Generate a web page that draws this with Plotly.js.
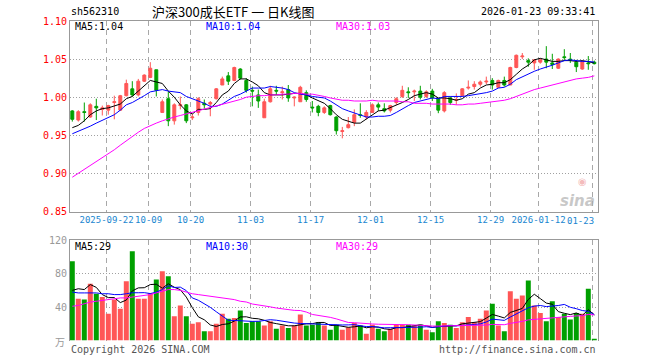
<!DOCTYPE html>
<html><head><meta charset="utf-8">
<script src="https://cdn.plot.ly/plotly-3.0.1.min.js"></script>
<style>html,body{margin:0;padding:0;background:#fff}#chart{width:660px;height:360px}</style>
</head><body><div id="chart"></div>
<script>
const dates = ['2025-09-12','2025-09-15','2025-09-16','2025-09-17','2025-09-18','2025-09-19','2025-09-22','2025-09-23','2025-09-24','2025-09-25','2025-09-26','2025-09-29','2025-09-30',
'2025-10-09','2025-10-10','2025-10-13','2025-10-14','2025-10-15','2025-10-16','2025-10-17','2025-10-20','2025-10-21','2025-10-22','2025-10-23','2025-10-24','2025-10-27','2025-10-28','2025-10-29','2025-10-30','2025-10-31',
'2025-11-03','2025-11-04','2025-11-05','2025-11-06','2025-11-07','2025-11-10','2025-11-11','2025-11-12','2025-11-13','2025-11-14','2025-11-17','2025-11-18','2025-11-19','2025-11-20','2025-11-21','2025-11-24','2025-11-25','2025-11-26','2025-11-27','2025-11-28',
'2025-12-01','2025-12-02','2025-12-03','2025-12-04','2025-12-05','2025-12-08','2025-12-09','2025-12-10','2025-12-11','2025-12-12','2025-12-15','2025-12-16','2025-12-17','2025-12-18','2025-12-19','2025-12-22','2025-12-23','2025-12-24','2025-12-25','2025-12-26','2025-12-29','2025-12-30','2025-12-31',
'2026-01-05','2026-01-06','2026-01-07','2026-01-08','2026-01-09','2026-01-12','2026-01-13','2026-01-14','2026-01-15','2026-01-16','2026-01-19','2026-01-20','2026-01-21','2026-01-22','2026-01-23'];

const open = [0.982,0.970,0.981,0.974,0.988,0.984,0.983,0.993,0.983,1.002,
1.011,1.003,1.021,1.026,1.036,0.980,0.998,0.969,0.989,0.990,
0.973,0.980,0.992,0.991,0.998,1.016,1.028,1.022,1.037,1.022,
1.009,1.003,0.973,0.994,1.009,1.006,1.010,0.999,0.994,1.006,
0.987,0.988,0.980,0.989,0.974,0.955,0.960,0.967,0.977,0.974,
0.980,0.990,0.985,0.983,0.993,1.001,1.007,1.007,1.008,1.001,
1.008,0.998,0.982,0.999,0.996,1.002,1.012,1.014,1.017,1.020,
1.022,1.013,1.022,1.016,1.039,1.053,1.048,1.045,1.046,1.050,
1.045,1.038,1.053,1.050,1.046,1.037,1.045,1.046];
const high = [0.983,0.983,0.993,0.992,0.998,0.989,0.990,1.002,1.003,1.023,
1.021,1.024,1.030,1.046,1.036,0.997,1.007,0.992,1.001,0.991,
0.978,1.000,0.997,0.995,1.012,1.027,1.033,1.040,1.038,1.025,
1.014,1.010,0.998,1.015,1.015,1.014,1.016,1.001,1.015,1.009,
0.995,0.990,0.988,0.990,0.975,0.961,0.974,0.984,0.992,0.983,
0.992,0.993,0.992,0.990,1.000,1.015,1.013,1.010,1.015,1.009,
1.011,0.999,1.008,1.001,1.005,1.012,1.022,1.021,1.022,1.027,
1.025,1.023,1.027,1.040,1.056,1.058,1.051,1.050,1.051,1.067,
1.057,1.051,1.063,1.058,1.049,1.048,1.054,1.048];
const low = [0.968,0.968,0.968,0.973,0.970,0.976,0.977,0.971,0.982,1.001,
1.001,1.001,1.020,1.025,1.001,0.980,0.962,0.964,0.984,0.966,
0.970,0.976,0.985,0.975,0.997,1.016,1.016,1.021,1.023,1.006,
0.988,0.986,0.973,0.993,1.003,0.997,0.994,0.988,0.994,0.994,
0.980,0.975,0.978,0.976,0.951,0.946,0.959,0.962,0.973,0.971,
0.980,0.982,0.980,0.980,0.990,0.999,0.999,0.995,0.997,0.999,
0.995,0.979,0.980,0.990,0.990,1.001,1.010,1.010,1.014,1.017,
1.010,1.012,1.014,1.016,1.038,1.050,1.040,1.036,1.044,1.038,
1.037,1.037,1.048,1.045,1.033,1.036,1.036,1.043];
const close = [0.971,0.981,0.980,0.990,0.986,0.986,0.989,0.994,1.002,1.018,
1.003,1.021,1.029,1.038,1.009,0.994,0.969,0.990,0.990,0.969,
0.974,0.998,0.990,0.993,1.011,1.024,1.021,1.039,1.025,1.009,
1.008,0.995,0.994,1.011,1.008,1.007,0.999,1.000,1.013,0.997,
0.986,0.980,0.986,0.977,0.956,0.956,0.964,0.977,0.976,0.980,
0.990,0.987,0.982,0.989,0.998,1.009,1.006,1.008,1.000,1.007,
0.999,0.983,1.006,0.993,0.997,1.011,1.013,1.017,1.020,1.021,
1.016,1.022,1.016,1.039,1.055,1.054,1.046,1.049,1.049,1.046,
1.043,1.050,1.052,1.049,1.040,1.047,1.044,1.044];

const ma5 = [0.960,0.963,0.969,0.977,0.982,0.985,0.986,0.989,0.991,0.998,
1.001,1.008,1.015,1.022,1.020,1.018,1.008,1.000,0.990,0.982,
0.978,0.984,0.984,0.985,0.993,1.003,1.008,1.018,1.024,1.024,
1.020,1.015,1.006,1.003,1.003,1.003,1.004,1.005,1.005,1.003,
0.999,0.995,0.992,0.985,0.977,0.971,0.968,0.966,0.966,0.971,
0.977,0.982,0.983,0.986,0.989,0.993,0.997,1.002,1.004,1.006,
1.004,0.999,0.999,0.998,0.996,0.998,1.004,1.006,1.012,1.016,
1.017,1.019,1.019,1.023,1.030,1.037,1.042,1.049,1.051,1.049,
1.047,1.047,1.048,1.048,1.047,1.048,1.046,1.045];
const ma10 = [0.952,0.955,0.959,0.962,0.966,0.970,0.974,0.977,0.983,0.990,
0.993,0.997,1.002,1.007,1.009,1.010,1.008,1.007,1.006,1.001,
0.998,0.996,0.992,0.988,0.988,0.991,0.996,1.001,1.004,1.008,
1.012,1.012,1.012,1.014,1.013,1.012,1.010,1.006,1.004,1.003,
1.001,1.000,0.999,0.995,0.990,0.985,0.982,0.979,0.976,0.974,
0.974,0.975,0.975,0.976,0.980,0.985,0.989,0.993,0.995,0.998,
0.999,0.998,1.001,1.001,1.001,1.001,1.002,1.003,1.005,1.006,
1.008,1.012,1.013,1.017,1.023,1.027,1.031,1.034,1.037,1.039,
1.042,1.045,1.048,1.049,1.048,1.047,1.047,1.046];
const ma30 = [0.895,0.900,0.905,0.910,0.915,0.920,0.925,0.931,0.937,0.943,
0.949,0.954,0.959,0.963,0.966,0.969,0.972,0.974,0.976,0.978,
0.980,0.982,0.984,0.986,0.988,0.990,0.993,0.995,0.997,1.000,
1.001,1.002,1.002,1.003,1.003,1.004,1.004,1.005,1.005,1.004,
1.004,1.002,1.001,0.999,0.997,0.996,0.996,0.995,0.995,0.995,
0.996,0.995,0.995,0.995,0.995,0.994,0.994,0.992,0.992,0.992,
0.991,0.991,0.991,0.991,0.990,0.990,0.991,0.991,0.992,0.993,
0.994,0.995,0.996,0.998,1.001,1.005,1.007,1.010,1.012,1.014,
1.016,1.018,1.021,1.023,1.024,1.025,1.026,1.028];

const volume = [95,50,49,68,56,52,32,49,38,71,
107,50,50,57,73,83,77,29,42,29,
20,22,11,11,20,32,26,27,36,21,
23,23,18,23,14,18,15,18,31,18,
19,22,18,13,19,13,16,21,18,8,
19,14,11,14,19,19,19,18,19,13,
10,23,21,19,15,22,28,22,26,36,
44,18,11,59,50,54,72,42,33,23,
47,28,32,25,33,32,62,2];
const volMa5 = [60,62,61,67,63.6,55.0,51.4,51.4,45.4,48.4,
59.4,63.0,63.2,67.0,67.4,62.6,68.0,63.8,60.8,52.0,
39.4,28.4,24.8,18.6,16.8,19.2,20.0,23.2,28.2,28.4,
26.6,26.0,24.2,21.6,20.2,19.2,17.6,17.6,19.2,20.0,
20.2,21.6,21.6,18.0,18.2,17.0,15.8,16.4,17.4,15.2,
16.4,16.0,14.0,13.2,15.4,15.4,16.4,17.8,18.8,17.6,
15.8,16.6,17.2,17.2,17.6,20.0,21.0,21.2,22.6,26.8,
31.2,29.2,27.0,33.6,36.4,38.4,49.2,55.4,50.2,44.8,
43.4,34.6,32.6,31.0,33.0,30.0,36.8,30.8];
const volMa10 = [58,57,57,57,57,56,56,55,55,56.0,
57.2,57.2,57.3,56.2,57.9,61.0,65.5,63.5,63.9,59.7,
51.0,48.2,44.3,39.7,34.4,29.3,24.2,24.0,23.4,22.6,
22.9,23.0,23.7,24.9,24.3,22.9,21.8,20.9,20.4,20.1,
19.7,19.6,19.6,18.6,19.1,18.6,18.7,19.0,17.7,16.7,
16.7,15.9,15.2,15.3,15.3,15.9,16.2,15.9,16.0,16.5,
15.6,16.5,17.5,18.0,17.6,17.9,18.8,19.2,19.9,22.2,
25.6,25.1,24.1,28.1,31.6,34.8,39.2,41.2,41.9,40.6,
40.9,41.9,43.2,39.8,38.1,35.9,34.9,30.9];
const volMa30 = [41,42,44,46,47,48,49,50,51,51,
52,53,54,55,57,59,61,61,60,58,
56,55,54,53,52,51,50,49,47,46.1,
43.7,42.8,41.8,40.3,38.9,37.7,37.2,36.1,35.9,34.1,
31.2,30.3,29.2,27.7,25.9,23.6,21.6,21.3,20.5,19.8,
19.8,19.5,19.5,19.6,19.6,19.1,18.9,18.6,18.0,17.8,
17.3,17.3,17.4,17.3,17.3,17.5,17.9,18.0,17.9,18.5,
19.3,19.2,18.9,20.5,21.5,22.9,24.7,25.4,25.9,26.4,
27.4,27.8,28.5,28.9,29.4,29.8,31.2,30.7];

const tickDates = ['2025-09-22','2025-10-09','2025-10-20','2025-11-03','2025-11-17','2025-12-01','2025-12-15','2025-12-29','2026-01-12','2026-01-23'];
const tickLabels = ['2025-09-22','10-09','10-20','11-03','11-17','12-01','12-15','12-29','2026-01-12','01-23'];
const priceTicks = [0.85,0.90,0.95,1.00,1.05,1.10];
const priceTickText = ['0.85','0.90','0.95','1.00','1.05','1.10'];
const volTicks = [40,80,120];
const volTickText = ['40','80','120'];

const W = 660, H = 360;
const L = 70, R = 598;
const mainTop = 21, mainBot = 211.5, volTop = 240.3, volBot = 340.5;
const px = x => x / W, py = y => 1 - y / H;
const mono = "'DejaVu Sans Mono', monospace";
const RED = '#ff5656', GREEN = '#00a000';
const BLUE_TXT = '#1a86d0';

const idx = dates.map((d, i) => i);
const tickVals = tickDates.map(d => dates.indexOf(d) - 0.28);
const tickText = tickLabels.map((t, i) => i === tickLabels.length - 1 ? '' : t);
const xRange = [-0.383, dates.length - 0.383];

const traces = [
  {type: 'candlestick', x: idx, open: open, high: high, low: low, close: close,
   xaxis: 'x', yaxis: 'y', whiskerwidth: 0, hoverinfo: 'skip',
   increasing: {line: {color: RED, width: 1}, fillcolor: RED},
   decreasing: {line: {color: GREEN, width: 1}, fillcolor: GREEN}},
  {type: 'scatter', mode: 'lines', x: idx, y: ma5, xaxis: 'x', yaxis: 'y', line: {color: '#000000', width: 1}, hoverinfo: 'skip'},
  {type: 'scatter', mode: 'lines', x: idx, y: ma10, xaxis: 'x', yaxis: 'y', line: {color: '#0000ff', width: 1}, hoverinfo: 'skip'},
  {type: 'scatter', mode: 'lines', x: idx, y: ma30, xaxis: 'x', yaxis: 'y', line: {color: '#ff00ff', width: 1}, hoverinfo: 'skip'},
  {type: 'bar', x: idx, y: volume, xaxis: 'x2', yaxis: 'y2', hoverinfo: 'skip',
   marker: {color: close.map((c, i) => c >= open[i] ? RED : GREEN), line: {width: 0}}},
  {type: 'scatter', mode: 'lines', x: idx, y: volMa5, xaxis: 'x2', yaxis: 'y2', line: {color: '#000000', width: 1}, hoverinfo: 'skip'},
  {type: 'scatter', mode: 'lines', x: idx, y: volMa10, xaxis: 'x2', yaxis: 'y2', line: {color: '#0000ff', width: 1}, hoverinfo: 'skip'},
  {type: 'scatter', mode: 'lines', x: idx, y: volMa30, xaxis: 'x2', yaxis: 'y2', line: {color: '#ff00ff', width: 1}, hoverinfo: 'skip'}
];

const gridV = {showgrid: true, gridcolor: '#a8a8a8', gridwidth: 1, griddash: '5px,4px'};
const gridH = {showgrid: true, gridcolor: '#a0a0a0', gridwidth: 1, griddash: '1px,2px'};

function ann(text, x, y, anchor, color, size, family, extra) {
  return Object.assign({text: text, x: px(x), y: py(y), xref: 'paper', yref: 'paper',
    xanchor: anchor, yanchor: 'middle', showarrow: false,
    font: {family: family || mono, size: size || 10, color: color || '#000'}}, extra || {});
}

const layout = {
  width: W, height: H, margin: {l: 0, r: 0, t: 0, b: 0},
  paper_bgcolor: '#ffffff', plot_bgcolor: '#ffffff',
  showlegend: false, hovermode: false, dragmode: false,
  boxgap: 0.3, bargap: 0.17,
  xaxis: Object.assign({domain: [px(L), px(R)], range: xRange, anchor: 'y',
    tickmode: 'array', tickvals: tickVals, ticktext: tickText, ticks: '', tickangle: 0,
    tickfont: {family: mono, size: 9, color: BLUE_TXT},
    showline: true, linecolor: '#999999', linewidth: 1, mirror: true,
    zeroline: false, rangeslider: {visible: false}, fixedrange: true}, gridV),
  yaxis: Object.assign({domain: [py(mainBot), py(mainTop)], range: [0.85, 1.10], anchor: 'x',
    tickmode: 'array', tickvals: priceTicks, ticktext: priceTickText, ticks: '',
    tickfont: {family: mono, size: 10, color: '#ff0000'},
    showline: true, linecolor: '#999999', linewidth: 1, mirror: true,
    zeroline: false, fixedrange: true}, gridH),
  xaxis2: Object.assign({domain: [px(L), px(R)], range: xRange, anchor: 'y2',
    tickmode: 'array', tickvals: tickVals, showticklabels: false, ticks: '',
    showline: true, side: 'top', linecolor: '#999999', linewidth: 1,
    zeroline: false, fixedrange: true}, gridV),
  yaxis2: Object.assign({domain: [py(volBot), py(volTop)], range: [0, 120], anchor: 'x2',
    tickmode: 'array', tickvals: volTicks, ticktext: volTickText, ticks: '',
    tickfont: {family: mono, size: 10, color: '#999999'},
    showline: true, linecolor: '#999999', linewidth: 1, mirror: true,
    zeroline: false, fixedrange: true}, gridH),
  annotations: [
    ann('sh562310', 69, 12, 'left', '#000'),
    ann('沪深300成长ETF 一 日K线图', 233, 12, 'center', '#000', 13, "'Noto Sans CJK SC', sans-serif"),
    ann('2026-01-23 09:33:41', 597, 12, 'right', '#000'),
    ann('MA5:1.04', 73, 27, 'left', '#000000'),
    ann('MA10:1.04', 204, 27, 'left', '#0000ff'),
    ann('MA30:1.03', 334, 27, 'left', '#ff00ff'),
    ann('MA5:29', 73, 246, 'left', '#000000'),
    ann('MA10:30', 204, 246, 'left', '#0000ff'),
    ann('MA30:29', 334, 246, 'left', '#ff00ff'),
    ann(tickLabels[tickLabels.length - 1], 596, 221, 'right', BLUE_TXT, 9),
    ann('万', 67, 341, 'right', '#999999', 10, "'Noto Sans CJK SC', sans-serif"),
    ann('Copyright 2026 SINA.COM', 69, 349, 'left', '#555555'),
    ann('http://finance.sina.com.cn', 598, 349, 'right', '#555555'),
    ann('◉', 582, 181, 'center', 'rgba(235,130,130,0.55)', 10, "'DejaVu Sans', sans-serif"),
    ann('sina', 597, 201, 'right', 'rgba(175,175,175,0.7)', 15, "'DejaVu Sans', sans-serif",
        {font: {family: "'DejaVu Sans', sans-serif", size: 15, color: 'rgba(175,175,175,0.7)', weight: 'bold', style: 'italic'}})
  ]
};

Plotly.newPlot('chart', traces, layout, {staticPlot: true, displayModeBar: false});
</script>
</body></html>
